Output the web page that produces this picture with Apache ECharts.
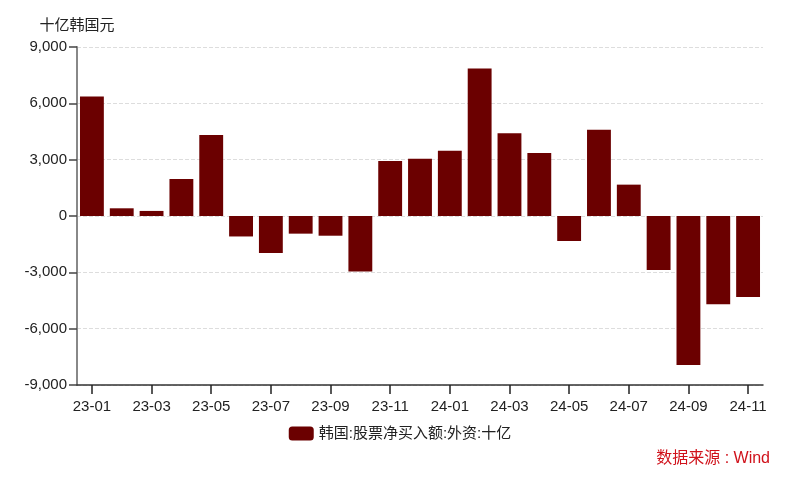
<!DOCTYPE html>
<html>
<head>
<meta charset="utf-8">
<script src="https://cdn.jsdelivr.net/npm/echarts@6/dist/echarts.min.js"></script>
<style>html,body{margin:0;padding:0;background:#fff;}#c{width:800px;height:483px;}</style>
</head>
<body>
<div id="c"></div>
<script>
const categories = ['23-01','23-02','23-03','23-04','23-05','23-06','23-07','23-08','23-09','23-10','23-11','23-12',
  '24-01','24-02','24-03','24-04','24-05','24-06','24-07','24-08','24-09','24-10','24-11'];
const netBuy = [6360, 410, 270, 1970, 4310, -1090, -1970, -940, -1050, -2950, 2930, 3050,
  3470, 7850, 4410, 3360, -1330, 4590, 1670, -2880, -7940, -4700, -4320];
const seriesName = '韩国:股票净买入额:外资:十亿';
const yAxisName = '十亿韩国元';
const sourceText = '数据来源 : Wind';

const font = '"Helvetica Neue", Arial, "Noto Sans CJK SC", sans-serif';
const chart = echarts.init(document.getElementById('c'), null, {renderer: 'canvas'});
chart.setOption({
  animation: false,
  textStyle: {fontFamily: font},
  grid: {left: 77, right: 37, top: 47, bottom: 98, containLabel: false},
  legend: {
    bottom: 37, left: 'center',
    itemWidth: 25, itemHeight: 14,
    textStyle: {fontSize: 15, color: '#222', fontFamily: font},
    data: [seriesName]
  },
  graphic: [{
    type: 'text', right: 30, top: 451,
    style: {text: sourceText, fill: '#d0121b', font: '16px ' + font}
  }],
  xAxis: {
    type: 'category', data: categories,
    axisLine: {onZero: false, lineStyle: {color: '#333', width: 1.5}},
    axisTick: {show: true, alignWithLabel: true, interval: 1, length: 9, lineStyle: {color: '#222', width: 1.5}},
    axisLabel: {interval: 1, fontSize: 15, color: '#222', margin: 14},
  },
  yAxis: {
    type: 'value', min: -9000, max: 9000, interval: 3000,
    name: yAxisName, nameLocation: 'end', nameGap: 14,
    nameTextStyle: {fontSize: 15, color: '#222', align: 'center'},
    axisLine: {show: true, lineStyle: {color: '#888', width: 2}},
    axisTick: {show: true, length: 8, lineStyle: {color: '#444', width: 1.5}},
    axisLabel: {fontSize: 15, color: '#222', margin: 10,
      formatter: v => v.toLocaleString('en-US')},
    splitLine: {show: true, lineStyle: {color: '#ddd', type: 'dashed'}}
  },
  series: [{
    name: seriesName, type: 'bar', data: netBuy,
    barCategoryGap: '20%',
    itemStyle: {color: '#6b0000'}
  }]
});
</script>
</body>
</html>
